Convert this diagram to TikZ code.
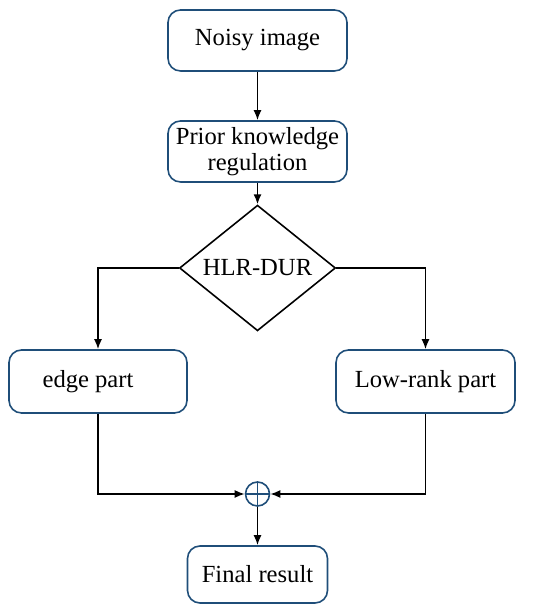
\documentclass[tikz,border=0pt]{standalone}
\usepackage{fontspec}
\setmainfont{Liberation Serif}
\usepackage{xcolor}
\usepackage{tikz}
\usetikzlibrary{shapes,positioning,arrows.meta}
\definecolor{boxblue}{RGB}{31,78,121}
\tikzset{box/.style={rectangle,rounded corners=0.25cm,draw=boxblue,line width=0.9pt,minimum width=3.58cm,minimum height=1.22cm,align=center,font=\fontsize{14}{15}\selectfont}}
\tikzset{dia/.style={diamond,draw,line width=0.9pt,minimum width=3.12cm,minimum height=2.3cm,inner sep=0pt,font=\fontsize{14}{15}\selectfont}}
\tikzset{sum/.style={circle,draw=boxblue,line width=0.9pt,minimum size=0.48cm,inner sep=0pt}}

\begin{document}
\begin{tikzpicture}[>={Latex[length=2mm,width=1.6mm]},line width=0.9pt]
    \useasboundingbox (0,0) rectangle (11,12.28);
    \node[box] (a)at (5.15,11.47) {Noisy image};
    \node[box] (b)at (5.15,9.25) {Prior knowledge\\regulation};
    \node[dia] (c)at (5.15,6.92) {HLR-DUR};
    \node[box,minimum width=3.56cm,minimum height=1.26cm] (d)at (1.96,4.65) {edge part\hspace{0.4cm}};
    \node[box,minimum width=3.58cm,minimum height=1.26cm] (e)at (8.51,4.65) {Low-rank part};
    \node[sum] (f)at (5.15,2.40) {};
    \node[box,minimum width=2.8cm,minimum height=1.14cm] (g)at (5.15,0.79) {Final result};

    \draw [->] (a) to (b);
    \draw [->] (b) to (c);
    \draw [->] (c.west) -| (d.north);
    \draw [->] (c.east) -| (e.north);
    \draw [->] (d.south) |- (f.west);
    \draw [->] (e.south) |- (f.east);
    \draw [boxblue] (f.north) -- (f.south) (f.west) -- (f.east);
    \draw [->] (f) to (g);
\end{tikzpicture}
\end{document}
